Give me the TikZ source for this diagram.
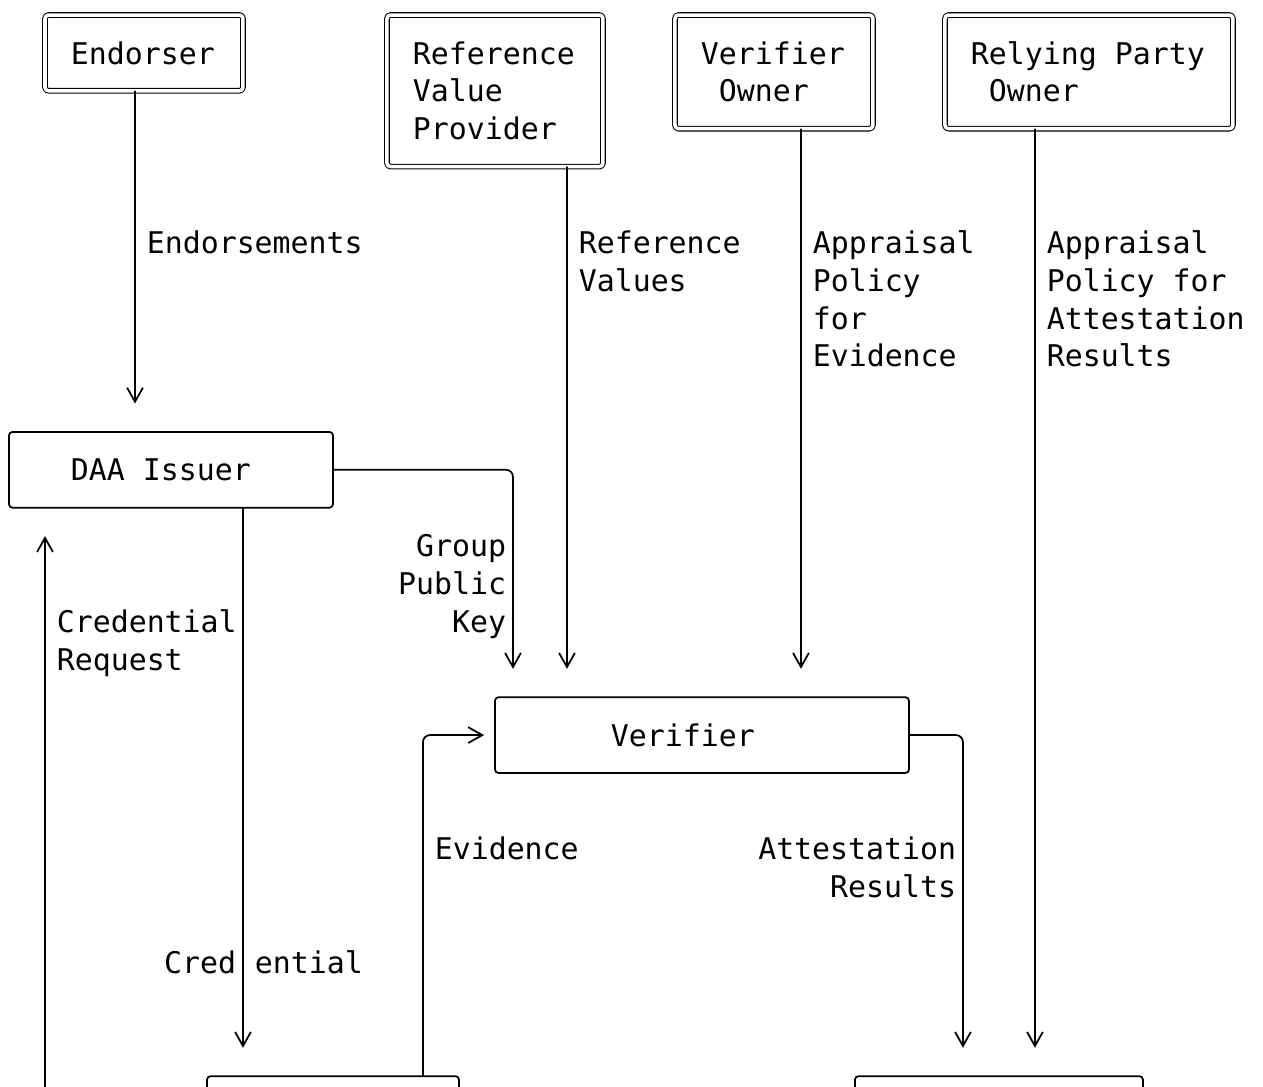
\documentclass[tikz,border=0pt]{standalone}
\usepackage{fontspec}
\newfontfamily\asciimono{DejaVu Sans Mono}
\usetikzlibrary{arrows.meta}
\begin{document}
\begin{tikzpicture}[font=\fontsize{17pt}{21.49pt}\asciimono, line join=round, line cap=round,
  >={Straight Barb[length=8pt,width=9pt]}, x=0.36cm, y=-0.758cm,
  dbox/.style={draw, double, double distance=2pt, line width=0.6pt, rounded corners=2pt, align=left, inner ysep=0pt,
    execute at begin node={\spaceskip=0.602em\relax}},
  sbox/.style={draw, line width=1pt, rounded corners=2pt, align=left, inner ysep=0pt,
    execute at begin node={\spaceskip=0.602em\relax}},
  flow/.style={->, line width=1pt, rounded corners=4pt, shorten >=0.55cm},
  lbl/.style={inner sep=0pt, text height=12.4pt, text depth=0pt, anchor=west, xshift=0.05cm},
  lblr/.style={lbl, anchor=east}]
\useasboundingbox (-0.5,-0.396) rectangle (69.67,28.26);
\clip (-0.5,-0.396) rectangle (69.67,28.26);
% owners on top
\node[dbox, text width=2.92cm, inner xsep=0.52cm, minimum height=1.516cm] (endorser) at (7.5,1) {Endorser};
\node[dbox, text width=3.28cm, inner xsep=0.52cm, minimum height=3.032cm] (refprov) at (27,2) {Reference\\Value\\Provider};
\node[dbox, text width=2.92cm, inner xsep=0.52cm, minimum height=2.274cm] (vowner) at (42.5,1.5) {Verifier\\\hphantom{V}Owner};
\node[dbox, text width=4.72cm, inner xsep=0.52cm, minimum height=2.274cm] (rpowner) at (60,1.5) {Relying Party\\\hphantom{R}Owner};
% roles
\node[sbox, text width=4cm, inner xsep=1.24cm, minimum height=1.516cm] (daa) at (9,12) {DAA Issuer};
\node[sbox, text width=3.64cm, inner xsep=2.32cm, minimum height=1.516cm] (verifier) at (38.5,19) {Verifier};
% cut off at the bottom
\node[sbox, minimum width=5.04cm, minimum height=3.032cm] (attester) at (18,30) {};
\node[sbox, minimum width=5.76cm, minimum height=3.032cm] (rp) at (55,30) {};
% flows
\draw[flow] (endorser.south -| 7,0) -- (daa.north -| 7,0);
\draw[flow] (refprov.south -| 31,0) -- (verifier.north -| 31,0);
\draw[flow] (vowner.south -| 44,0) -- (verifier.north -| 44,0);
\draw[flow] (rpowner.south -| 57,0) -- (rp.north -| 57,0);
\draw[flow] (daa.east) -| (verifier.north -| 28,0);
\draw[flow] (daa.south -| 13,0) -- (attester.north -| 13,0);
\draw[flow] (attester.west) -| (daa.south -| 2,0);
\draw[flow, shorten >=0.2cm] (attester.north -| 23,0) |- (verifier.west);
\draw[flow] (verifier.east) -| (rp.north -| 53,0);
% labels
\node[lbl] (tEndorse) at (7.5,6) {Endorsements};
\node[lbl] (tRefA) at (31.5,6) {Reference};
\node[lbl] (tRefB) at (31.5,7) {Values};
\node[lbl] (tPolA) at (44.5,6) {Appraisal};
\node[lbl] (tPolB) at (44.5,7) {Policy};
\node[lbl] (tPolC) at (44.5,8) {for};
\node[lbl] (tPolD) at (44.5,9) {Evidence};
\node[lbl] (tRpA) at (57.5,6) {Appraisal};
\node[lbl] (tRpB) at (57.5,7) {Policy for};
\node[lbl] (tRpC) at (57.5,8) {Attestation};
\node[lbl] (tRpD) at (57.5,9) {Results};
\node[lblr] (tGrpA) at (27.5,14) {Group};
\node[lblr] (tGrpB) at (27.5,15) {Public};
\node[lblr] (tGrpC) at (27.5,16) {Key};
\node[lbl] (tReqA) at (2.5,16) {Credential};
\node[lbl] (tReqB) at (2.5,17) {Request};
\node[lblr] (tCredA) at (12.5,25) {Cred};
\node[lbl] (tCredB) at (13.5,25) {ential};
\node[lbl] (tEvid) at (23.5,22) {Evidence};
\node[lblr] (tResA) at (52.5,22) {Attestation};
\node[lblr] (tResB) at (52.5,23) {Results};
\end{tikzpicture}
\end{document}
